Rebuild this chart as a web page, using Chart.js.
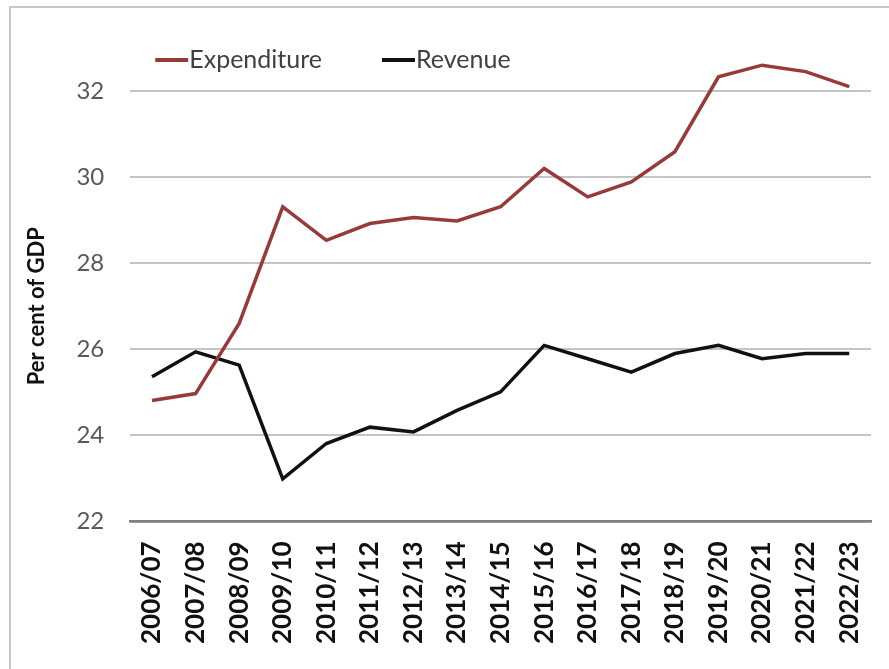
<!DOCTYPE html>
<html>
<head>
<meta charset="utf-8">
<script src="https://cdn.jsdelivr.net/npm/chart.js@4.4.1/dist/chart.umd.min.js"></script>
<style>
  html, body { margin: 0; padding: 0; background: #fff; }
  #wrap { position: relative; width: 889px; height: 669px; }
  #frame { position: absolute; left: 9px; top: 6px; right: 0; bottom: 0;
           border-left: 2px solid #c8c8c8; border-top: 2px solid #c8c8c8; pointer-events: none; }
  canvas { position: absolute; left: 0; top: 0; }
</style>
</head>
<body>
<div id="wrap">
  <canvas id="fiscal" width="889" height="669"></canvas>
  <div id="frame"></div>
</div>
<script>
// fiscal years on the x axis
const years = ['2006/07', '2007/08', '2008/09', '2009/10', '2010/11', '2011/12', '2012/13',
  '2013/14', '2014/15', '2015/16', '2016/17', '2017/18', '2018/19', '2019/20', '2020/21',
  '2021/22', '2022/23'];

// per cent of GDP
const expenditure = [24.81, 24.97, 26.6, 29.31, 28.53, 28.92, 29.06, 28.98, 29.31, 30.2,
  29.54, 29.89, 30.59, 32.33, 32.6, 32.45, 32.1];
const revenue = [25.36, 25.94, 25.63, 22.99, 23.81, 24.19, 24.08, 24.58, 25.01, 26.09,
  25.78, 25.47, 25.9, 26.09, 25.78, 25.9, 25.9];

const yMin = 22;
const yMax = 32;
const yStep = 2;

const FONT = 'Lato, "Open Sans", sans-serif';

// legend drawn as a line swatch touching the label, sitting above the plot
const lineLegend = {
  id: 'lineLegend',
  afterDraw(chart) {
    const { ctx, chartArea } = chart;
    let x = chartArea.left + 25;
    const y = chartArea.top - 31;
    ctx.save();
    ctx.font = '25px ' + FONT;
    ctx.textBaseline = 'middle';
    chart.data.datasets.forEach(ds => {
      ctx.strokeStyle = ds.borderColor;
      ctx.lineWidth = 4;
      ctx.beginPath();
      ctx.moveTo(x, y);
      ctx.lineTo(x + 33, y);
      ctx.stroke();
      x += 34;
      ctx.fillStyle = '#404040';
      ctx.fillText(ds.label, x, y);
      x += ctx.measureText(ds.label).width + 60;
    });
    ctx.restore();
  }
};

new Chart('fiscal', {
  type: 'line',
  data: {
    labels: years,
    datasets: [{
      label: 'Expenditure',
      data: expenditure,
      borderColor: '#963a3a',
      borderWidth: 3.5,
      pointRadius: 0,
      tension: 0,
      clip: false
    }, {
      label: 'Revenue',
      data: revenue,
      borderColor: '#111111',
      borderWidth: 3.5,
      pointRadius: 0,
      tension: 0,
      clip: false
    }]
  },
  options: {
    responsive: false,
    animation: false,
    layout: { padding: { top: 91, left: 24, right: 18, bottom: 5 } },
    plugins: {
      legend: { display: false },
      tooltip: { enabled: false }
    },
    scales: {
      x: {
        offset: true,
        // the rotated labels sit inside the category bands, no side padding needed
        afterFit: s => { s.paddingLeft = 0; s.paddingRight = 0; },
        grid: { display: false, drawTicks: false },
        border: { display: true, color: '#7f7f7f', width: 2.5 },
        ticks: {
          autoSkip: false,
          minRotation: 90,
          maxRotation: 90,
          padding: 20,
          color: '#111',
          font: { family: FONT, size: 26, weight: 'bold' }
        }
      },
      y: {
        min: yMin,
        max: yMax,
        grid: {
          drawTicks: false,
          color: c => c.tick.value === yMin ? '#7f7f7f' : '#c4c4c4',
          lineWidth: c => c.tick.value === yMin ? 2.5 : 2
        },
        border: { display: false },
        ticks: {
          stepSize: yStep,
          padding: 26,
          color: '#595959',
          font: { family: FONT, size: 24 }
        },
        title: {
          display: true,
          text: 'Per cent of GDP',
          color: '#111',
          padding: { top: 0, bottom: 0 },
          font: { family: FONT, size: 22, weight: 'bold' }
        }
      }
    }
  },
  plugins: [lineLegend]
});
</script>
</body>
</html>
